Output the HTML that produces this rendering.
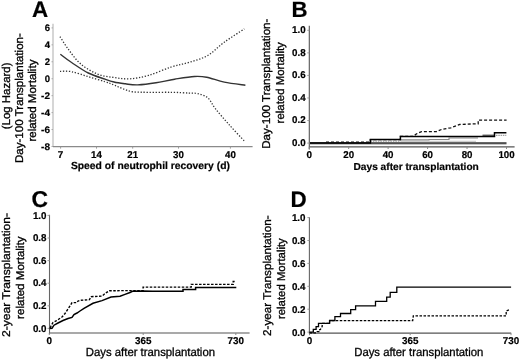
<!DOCTYPE html>
<html><head><meta charset="utf-8"><style>
html,body{margin:0;padding:0;background:#fff;}
svg{display:block;filter:grayscale(1);}
text{font-family:"Liberation Sans", sans-serif;stroke:#000;stroke-width:0.3px;text-rendering:geometricPrecision;}
text[font-weight=bold]{stroke-width:0.2px;}
</style></head><body>
<svg width="520" height="361" viewBox="0 0 520 361">
<rect width="520" height="361" fill="#fff"/>
<text x="32.1" y="17.1" font-size="22.4" font-weight="bold" text-anchor="start" fill="#000">A</text>
<line x1="53.0" y1="23.7" x2="53.0" y2="146.6" stroke="#bbb" stroke-width="1.2"/>
<line x1="53.0" y1="146.7" x2="252.6" y2="146.7" stroke="#8a8a8a" stroke-width="1.3"/>
<line x1="51.5" y1="27.9" x2="53.0" y2="27.9" stroke="#aaa" stroke-width="1"/>
<text x="50.0" y="31.4" font-size="9.5" font-weight="bold" text-anchor="end" fill="#000">6</text>
<line x1="51.5" y1="44.84" x2="53.0" y2="44.84" stroke="#aaa" stroke-width="1"/>
<text x="50.0" y="48.34" font-size="9.5" font-weight="bold" text-anchor="end" fill="#000">4</text>
<line x1="51.5" y1="61.78" x2="53.0" y2="61.78" stroke="#aaa" stroke-width="1"/>
<text x="50.0" y="65.28" font-size="9.5" font-weight="bold" text-anchor="end" fill="#000">2</text>
<line x1="51.5" y1="78.72" x2="53.0" y2="78.72" stroke="#aaa" stroke-width="1"/>
<text x="50.0" y="82.22" font-size="9.5" font-weight="bold" text-anchor="end" fill="#000">0</text>
<line x1="51.5" y1="95.66" x2="53.0" y2="95.66" stroke="#aaa" stroke-width="1"/>
<text x="50.0" y="99.16" font-size="9.5" font-weight="bold" text-anchor="end" textLength="8.9" lengthAdjust="spacingAndGlyphs" fill="#000">-2</text>
<line x1="51.5" y1="112.6" x2="53.0" y2="112.6" stroke="#aaa" stroke-width="1"/>
<text x="50.0" y="116.1" font-size="9.5" font-weight="bold" text-anchor="end" textLength="8.9" lengthAdjust="spacingAndGlyphs" fill="#000">-4</text>
<line x1="51.5" y1="129.54000000000002" x2="53.0" y2="129.54000000000002" stroke="#aaa" stroke-width="1"/>
<text x="50.0" y="133.04000000000002" font-size="9.5" font-weight="bold" text-anchor="end" textLength="8.9" lengthAdjust="spacingAndGlyphs" fill="#000">-6</text>
<line x1="51.5" y1="146.48000000000002" x2="53.0" y2="146.48000000000002" stroke="#aaa" stroke-width="1"/>
<text x="50.0" y="149.98000000000002" font-size="9.5" font-weight="bold" text-anchor="end" textLength="8.9" lengthAdjust="spacingAndGlyphs" fill="#000">-8</text>
<line x1="60.6" y1="146.7" x2="60.6" y2="148.6" stroke="#999" stroke-width="1"/>
<text x="60.6" y="157.7" font-size="9.9" font-weight="bold" text-anchor="middle" fill="#000">7</text>
<line x1="96.5" y1="146.7" x2="96.5" y2="148.6" stroke="#999" stroke-width="1"/>
<text x="96.5" y="157.7" font-size="9.9" font-weight="bold" text-anchor="middle" textLength="10.8" lengthAdjust="spacingAndGlyphs" fill="#000">14</text>
<line x1="132.7" y1="146.7" x2="132.7" y2="148.6" stroke="#999" stroke-width="1"/>
<text x="132.7" y="157.7" font-size="9.9" font-weight="bold" text-anchor="middle" textLength="10.8" lengthAdjust="spacingAndGlyphs" fill="#000">21</text>
<line x1="178.5" y1="146.7" x2="178.5" y2="148.6" stroke="#999" stroke-width="1"/>
<text x="178.5" y="157.7" font-size="9.9" font-weight="bold" text-anchor="middle" textLength="10.8" lengthAdjust="spacingAndGlyphs" fill="#000">30</text>
<line x1="230.4" y1="146.7" x2="230.4" y2="148.6" stroke="#999" stroke-width="1"/>
<text x="230.4" y="157.7" font-size="9.9" font-weight="bold" text-anchor="middle" textLength="10.8" lengthAdjust="spacingAndGlyphs" fill="#000">40</text>
<text x="70.9" y="169.2" font-size="10.4" font-weight="bold" text-anchor="start" textLength="159" lengthAdjust="spacingAndGlyphs" fill="#000">Speed of neutrophil recovery (d)</text>
<text transform="translate(10.2,129.2) rotate(-90)" x="0" y="0" font-size="11.3" textLength="66.7" lengthAdjust="spacingAndGlyphs">(Log Hazard)</text>
<text transform="translate(22.9,163.1) rotate(-90)" x="0" y="0" font-size="11.3" textLength="130.0" lengthAdjust="spacingAndGlyphs">Day-100 Transplantation-</text>
<text transform="translate(36.0,141.6) rotate(-90)" x="0" y="0" font-size="11.3" textLength="82.0" lengthAdjust="spacingAndGlyphs">related Mortality</text>
<path d="M60.0,36.7 C61.4,38.8 65.0,44.8 68.3,49.2 C71.6,53.6 75.3,59.2 80.0,63.3 C84.7,67.4 90.9,71.3 96.6,73.7 C102.3,76.1 108.4,76.7 114.0,77.5 C119.6,78.3 124.2,79.1 130.0,78.8 C135.8,78.5 141.6,77.4 148.5,75.4 C155.4,73.4 164.7,69.1 171.5,66.9 C178.3,64.7 183.2,64.2 189.2,62.3 C195.2,60.4 201.8,58.9 207.7,55.5 C213.5,52.1 218.2,46.6 224.3,42.2 C230.4,37.8 241.0,31.1 244.3,28.9" fill="none" stroke="#333" stroke-width="1.3" stroke-dasharray="1.3 1.7"/>
<path d="M60.0,71.3 C61.9,71.4 66.9,70.8 71.6,71.7 C76.3,72.6 82.7,75.0 88.3,76.7 C93.9,78.4 100.7,80.3 105.0,81.7 C109.3,83.1 111.1,83.9 114.0,85.0 C116.9,86.1 119.1,87.4 122.3,88.5 C125.5,89.6 128.6,91.2 133.0,91.8 C137.4,92.4 142.1,92.2 148.5,92.3 C154.9,92.4 164.7,92.2 171.5,92.3 C178.3,92.4 184.8,92.9 189.2,93.1 C193.6,93.3 194.6,92.9 197.7,93.7 C200.8,94.5 204.7,95.2 207.7,97.7 C210.7,100.2 212.0,104.4 215.5,108.8 C219.0,113.2 224.0,118.9 228.8,124.3 C233.6,129.7 241.7,138.2 244.3,141.0" fill="none" stroke="#333" stroke-width="1.3" stroke-dasharray="1.3 1.7"/>
<path d="M60.3,54.2 C62.2,55.6 66.9,59.4 71.6,62.5 C76.3,65.6 82.7,70.2 88.3,73.0 C93.9,75.8 100.7,77.7 105.0,79.2 C109.3,80.7 110.6,81.2 114.0,82.0 C117.4,82.8 121.5,83.3 125.4,83.8 C129.3,84.3 132.6,85.1 137.7,84.9 C142.8,84.7 149.8,83.8 156.0,82.8 C162.2,81.8 168.2,80.2 174.6,79.2 C181.0,78.2 189.1,76.8 194.4,76.5 C199.7,76.2 201.6,76.3 206.6,77.2 C211.6,78.1 217.8,80.8 224.3,82.1 C230.8,83.4 241.9,84.7 245.4,85.2" fill="none" stroke="#333" stroke-width="1.4"/>
<text x="291.6" y="17.2" font-size="22.2" font-weight="bold" text-anchor="start" fill="#000">B</text>
<line x1="309.3" y1="25.8" x2="309.3" y2="149.5" stroke="#555" stroke-width="1.1"/>
<line x1="309.3" y1="146.8" x2="514.6" y2="146.8" stroke="#555" stroke-width="1.15"/>
<line x1="307.3" y1="30.3" x2="309.3" y2="30.3" stroke="#999" stroke-width="1"/>
<text x="305.6" y="33.4" font-size="9.9" font-weight="bold" text-anchor="end" textLength="13.6" lengthAdjust="spacingAndGlyphs" fill="#000">1.0</text>
<line x1="307.3" y1="52.86" x2="309.3" y2="52.86" stroke="#999" stroke-width="1"/>
<text x="305.6" y="55.92" font-size="9.9" font-weight="bold" text-anchor="end" textLength="13.6" lengthAdjust="spacingAndGlyphs" fill="#000">0.8</text>
<line x1="307.3" y1="75.42" x2="309.3" y2="75.42" stroke="#999" stroke-width="1"/>
<text x="305.6" y="78.44" font-size="9.9" font-weight="bold" text-anchor="end" textLength="13.6" lengthAdjust="spacingAndGlyphs" fill="#000">0.6</text>
<line x1="307.3" y1="97.97999999999999" x2="309.3" y2="97.97999999999999" stroke="#999" stroke-width="1"/>
<text x="305.6" y="100.96000000000001" font-size="9.9" font-weight="bold" text-anchor="end" textLength="13.6" lengthAdjust="spacingAndGlyphs" fill="#000">0.4</text>
<line x1="307.3" y1="120.53999999999999" x2="309.3" y2="120.53999999999999" stroke="#999" stroke-width="1"/>
<text x="305.6" y="123.47999999999999" font-size="9.9" font-weight="bold" text-anchor="end" textLength="13.6" lengthAdjust="spacingAndGlyphs" fill="#000">0.2</text>
<line x1="307.3" y1="143.1" x2="309.3" y2="143.1" stroke="#999" stroke-width="1"/>
<text x="305.6" y="146.0" font-size="9.9" font-weight="bold" text-anchor="end" textLength="13.6" lengthAdjust="spacingAndGlyphs" fill="#000">0.0</text>
<line x1="309.2" y1="146.8" x2="309.2" y2="149.0" stroke="#888" stroke-width="1"/>
<text x="309.2" y="158.1" font-size="9.9" font-weight="bold" text-anchor="middle" fill="#000">0</text>
<line x1="348.65999999999997" y1="146.8" x2="348.65999999999997" y2="149.0" stroke="#888" stroke-width="1"/>
<text x="348.65999999999997" y="158.1" font-size="9.9" font-weight="bold" text-anchor="middle" textLength="10.8" lengthAdjust="spacingAndGlyphs" fill="#000">20</text>
<line x1="388.12" y1="146.8" x2="388.12" y2="149.0" stroke="#888" stroke-width="1"/>
<text x="388.12" y="158.1" font-size="9.9" font-weight="bold" text-anchor="middle" textLength="10.8" lengthAdjust="spacingAndGlyphs" fill="#000">40</text>
<line x1="427.58" y1="146.8" x2="427.58" y2="149.0" stroke="#888" stroke-width="1"/>
<text x="427.58" y="158.1" font-size="9.9" font-weight="bold" text-anchor="middle" textLength="10.8" lengthAdjust="spacingAndGlyphs" fill="#000">60</text>
<line x1="467.03999999999996" y1="146.8" x2="467.03999999999996" y2="149.0" stroke="#888" stroke-width="1"/>
<text x="467.03999999999996" y="158.1" font-size="9.9" font-weight="bold" text-anchor="middle" textLength="10.8" lengthAdjust="spacingAndGlyphs" fill="#000">80</text>
<line x1="506.5" y1="146.8" x2="506.5" y2="149.0" stroke="#888" stroke-width="1"/>
<text x="506.5" y="158.1" font-size="9.9" font-weight="bold" text-anchor="middle" textLength="16.2" lengthAdjust="spacingAndGlyphs" fill="#000">100</text>
<text x="353.5" y="169.6" font-size="10.2" font-weight="bold" text-anchor="start" textLength="125.3" lengthAdjust="spacingAndGlyphs" fill="#000">Days after transplantation</text>
<text transform="translate(270.4,148.8) rotate(-90)" x="0" y="0" font-size="11.4" textLength="130.2" lengthAdjust="spacingAndGlyphs">Day-100 Transplantation-</text>
<text transform="translate(283.7,123.4) rotate(-90)" x="0" y="0" font-size="11.4" textLength="81.2" lengthAdjust="spacingAndGlyphs">related Mortality</text>
<path d="M370.4,141.3 L400.4,141.3" fill="none" stroke="#999" stroke-width="0.9" stroke-dasharray="1.5 1"/>
<path d="M400.4,141.3 L476.0,141.3" fill="none" stroke="#bbb" stroke-width="0.9"/>
<path d="M400.4,139.9 L429.0,139.9 L429.0,139.5 L449.0,139.5 L449.0,138.0 L478.0,138.0" fill="none" stroke="#888" stroke-width="1.1"/>
<path d="M482.5,135.2 L494.5,135.2" fill="none" stroke="#222" stroke-width="1.0"/>
<path d="M496.0,135.3 L506.3,135.3" fill="none" stroke="#888" stroke-width="1.0" stroke-dasharray="1.5 0.8"/>
<path d="M326.0,142.2 L370.4,142.2 L370.4,139.6 L400.4,139.6 L400.4,136.4 L413.0,136.4 L416.6,133.8 L421.5,131.6 L436.5,131.6 L442.0,129.3 L450.9,127.8 L459.7,124.5 L475.2,123.8 L478.2,123.8 L478.2,120.2 L506.6,120.2" fill="none" stroke="#111" stroke-width="1.3" stroke-dasharray="3 2"/>
<line x1="310" y1="143.8" x2="506.5" y2="143.8" stroke="#1a1a1a" stroke-width="1.1"/>
<line x1="310" y1="142.6" x2="506.5" y2="142.6" stroke="#444" stroke-width="0.9"/>
<path d="M310.0,143.0 L370.4,143.0 L370.4,139.6 L400.4,139.6 L400.4,136.4 L494.5,136.4 L494.5,132.8 L506.4,132.8" fill="none" stroke="#000" stroke-width="1.5"/>
<text x="31.5" y="207.4" font-size="22.9" font-weight="bold" text-anchor="start" fill="#000">C</text>
<line x1="49.5" y1="214.8" x2="49.5" y2="334" stroke="#666" stroke-width="1.1"/>
<line x1="49.5" y1="333" x2="249.6" y2="333" stroke="#555" stroke-width="1.2"/>
<line x1="47.5" y1="215.4" x2="49.5" y2="215.4" stroke="#999" stroke-width="1"/>
<text x="46.5" y="218.6" font-size="9.9" font-weight="bold" text-anchor="end" textLength="13.6" lengthAdjust="spacingAndGlyphs" fill="#000">1.0</text>
<line x1="47.5" y1="238.0" x2="49.5" y2="238.0" stroke="#999" stroke-width="1"/>
<text x="46.5" y="241.18" font-size="9.9" font-weight="bold" text-anchor="end" textLength="13.6" lengthAdjust="spacingAndGlyphs" fill="#000">0.8</text>
<line x1="47.5" y1="260.6" x2="49.5" y2="260.6" stroke="#999" stroke-width="1"/>
<text x="46.5" y="263.76" font-size="9.9" font-weight="bold" text-anchor="end" textLength="13.6" lengthAdjust="spacingAndGlyphs" fill="#000">0.6</text>
<line x1="47.5" y1="283.20000000000005" x2="49.5" y2="283.20000000000005" stroke="#999" stroke-width="1"/>
<text x="46.5" y="286.34" font-size="9.9" font-weight="bold" text-anchor="end" textLength="13.6" lengthAdjust="spacingAndGlyphs" fill="#000">0.4</text>
<line x1="47.5" y1="305.8" x2="49.5" y2="305.8" stroke="#999" stroke-width="1"/>
<text x="46.5" y="308.91999999999996" font-size="9.9" font-weight="bold" text-anchor="end" textLength="13.6" lengthAdjust="spacingAndGlyphs" fill="#000">0.2</text>
<line x1="47.5" y1="328.4" x2="49.5" y2="328.4" stroke="#999" stroke-width="1"/>
<text x="46.5" y="331.5" font-size="9.9" font-weight="bold" text-anchor="end" textLength="13.6" lengthAdjust="spacingAndGlyphs" fill="#000">0.0</text>
<line x1="49.3" y1="333" x2="49.3" y2="335" stroke="#888" stroke-width="1"/>
<text x="49.3" y="344.2" font-size="9.9" font-weight="bold" text-anchor="middle" fill="#000">0</text>
<line x1="143.2" y1="333" x2="143.2" y2="335" stroke="#888" stroke-width="1"/>
<text x="143.2" y="344.2" font-size="9.9" font-weight="bold" text-anchor="middle" textLength="16.4" lengthAdjust="spacingAndGlyphs" fill="#000">365</text>
<line x1="235.8" y1="333" x2="235.8" y2="335" stroke="#888" stroke-width="1"/>
<text x="235.8" y="344.2" font-size="9.9" font-weight="bold" text-anchor="middle" textLength="16.4" lengthAdjust="spacingAndGlyphs" fill="#000">730</text>
<text x="85.8" y="355.8" font-size="11.8" text-anchor="start" textLength="129.2" lengthAdjust="spacingAndGlyphs" fill="#000">Days after transplantation</text>
<text transform="translate(10.0,336.9) rotate(-90)" x="0" y="0" font-size="11.3" textLength="123.9" lengthAdjust="spacingAndGlyphs">2-year Transplantation-</text>
<text transform="translate(23.7,318.9) rotate(-90)" x="0" y="0" font-size="11.3" textLength="82.4" lengthAdjust="spacingAndGlyphs">related Mortality</text>
<path d="M50.2,328.0 L51.0,326.0 L53.0,322.5 L56.0,321.0 L59.0,319.0 L62.0,317.0 L65.0,313.5 L68.0,309.0 L70.0,306.0 L72.0,302.6 L76.8,302.6 L78.0,301.0 L80.4,300.3 L89.4,299.7 L91.2,296.7 L102.0,296.1 L105.7,293.0 L109.3,290.7 L143.1,290.6 L143.1,287.1 L191.2,287.1 L191.2,284.4 L233.2,284.4 L233.2,281.5 L236.0,281.5" fill="none" stroke="#000" stroke-width="1.4" stroke-dasharray="2.5 1.5"/>
<path d="M49.5,328.4 L52.0,328.2 L54.0,325.2 L58.0,323.0 L63.0,320.5 L68.0,318.5 L72.0,317.4 L74.0,314.5 L77.0,313.0 L80.0,311.0 L84.0,308.3 L93.0,303.3 L102.0,300.6 L111.0,297.0 L120.0,296.3 L125.0,294.4 L130.0,292.5 L132.5,291.3 L142.5,291.0 L152.5,291.2 L183.0,291.2 L183.0,289.4 L195.6,289.4 L195.6,287.5 L236.3,287.5" fill="none" stroke="#000" stroke-width="1.5"/>
<text x="290.4" y="206.9" font-size="22.4" font-weight="bold" text-anchor="start" fill="#000">D</text>
<line x1="309.4" y1="217.2" x2="309.4" y2="334" stroke="#666" stroke-width="1.1"/>
<line x1="309.4" y1="333.2" x2="511.2" y2="333.2" stroke="#555" stroke-width="1.2"/>
<line x1="307.4" y1="217.6" x2="309.4" y2="217.6" stroke="#999" stroke-width="1"/>
<text x="305.5" y="221.1" font-size="9.9" font-weight="bold" text-anchor="end" textLength="13.6" lengthAdjust="spacingAndGlyphs" fill="#000">1.0</text>
<line x1="307.4" y1="240.5" x2="309.4" y2="240.5" stroke="#999" stroke-width="1"/>
<text x="305.5" y="244.0" font-size="9.9" font-weight="bold" text-anchor="end" textLength="13.6" lengthAdjust="spacingAndGlyphs" fill="#000">0.8</text>
<line x1="307.4" y1="263.4" x2="309.4" y2="263.4" stroke="#999" stroke-width="1"/>
<text x="305.5" y="266.9" font-size="9.9" font-weight="bold" text-anchor="end" textLength="13.6" lengthAdjust="spacingAndGlyphs" fill="#000">0.6</text>
<line x1="307.4" y1="286.29999999999995" x2="309.4" y2="286.29999999999995" stroke="#999" stroke-width="1"/>
<text x="305.5" y="289.79999999999995" font-size="9.9" font-weight="bold" text-anchor="end" textLength="13.6" lengthAdjust="spacingAndGlyphs" fill="#000">0.4</text>
<line x1="307.4" y1="309.2" x2="309.4" y2="309.2" stroke="#999" stroke-width="1"/>
<text x="305.5" y="312.7" font-size="9.9" font-weight="bold" text-anchor="end" textLength="13.6" lengthAdjust="spacingAndGlyphs" fill="#000">0.2</text>
<line x1="307.4" y1="332.1" x2="309.4" y2="332.1" stroke="#999" stroke-width="1"/>
<text x="305.5" y="335.6" font-size="9.9" font-weight="bold" text-anchor="end" textLength="13.6" lengthAdjust="spacingAndGlyphs" fill="#000">0.0</text>
<line x1="309.5" y1="333.2" x2="309.5" y2="335.2" stroke="#888" stroke-width="1"/>
<text x="309.5" y="344.2" font-size="9.9" font-weight="bold" text-anchor="middle" fill="#000">0</text>
<line x1="410.2" y1="333.2" x2="410.2" y2="335.2" stroke="#888" stroke-width="1"/>
<text x="410.2" y="344.2" font-size="9.9" font-weight="bold" text-anchor="middle" textLength="16.4" lengthAdjust="spacingAndGlyphs" fill="#000">365</text>
<line x1="511.0" y1="333.2" x2="511.0" y2="335.2" stroke="#888" stroke-width="1"/>
<text x="511.0" y="344.2" font-size="9.9" font-weight="bold" text-anchor="middle" textLength="16.4" lengthAdjust="spacingAndGlyphs" fill="#000">730</text>
<text x="354.2" y="355.8" font-size="11.8" text-anchor="start" textLength="129.2" lengthAdjust="spacingAndGlyphs" fill="#000">Days after transplantation</text>
<text transform="translate(271.4,336.0) rotate(-90)" x="0" y="0" font-size="11.3" textLength="120.7" lengthAdjust="spacingAndGlyphs">2-year Transplantation-</text>
<text transform="translate(285.0,319.0) rotate(-90)" x="0" y="0" font-size="11.3" textLength="80.8" lengthAdjust="spacingAndGlyphs">related Mortality</text>
<path d="M309.5,332.8 L316.6,332.8 L317.2,331.6 L318.9,331.6 L318.9,329.9 L320.5,329.4 L321.1,327.7 L322.2,326.6 L322.2,325.0 L322.7,323.3 L329.6,323.3 L329.6,320.6 L412.7,320.6 L413.3,315.8 L506.2,315.8 L506.2,310.9 L509.1,309.9" fill="none" stroke="#000" stroke-width="1.3" stroke-dasharray="2.5 1.5"/>
<path d="M309.5,332.2 L313.3,332.2 L313.3,329.4 L316.1,329.4 L316.1,326.6 L318.5,326.6 L318.5,323.3 L329.6,323.3 L329.6,320.5 L334.9,320.5 L334.9,316.6 L340.5,316.6 L340.5,313.5 L350.7,313.5 L350.7,309.6 L355.6,309.6 L355.6,305.8 L375.5,305.8 L375.5,301.4 L386.7,301.4 L386.7,297.1 L390.2,297.1 L390.2,292.3 L396.8,292.3 L396.8,287.2 L511.1,287.2" fill="none" stroke="#000" stroke-width="1.3"/>
</svg>
</body></html>
